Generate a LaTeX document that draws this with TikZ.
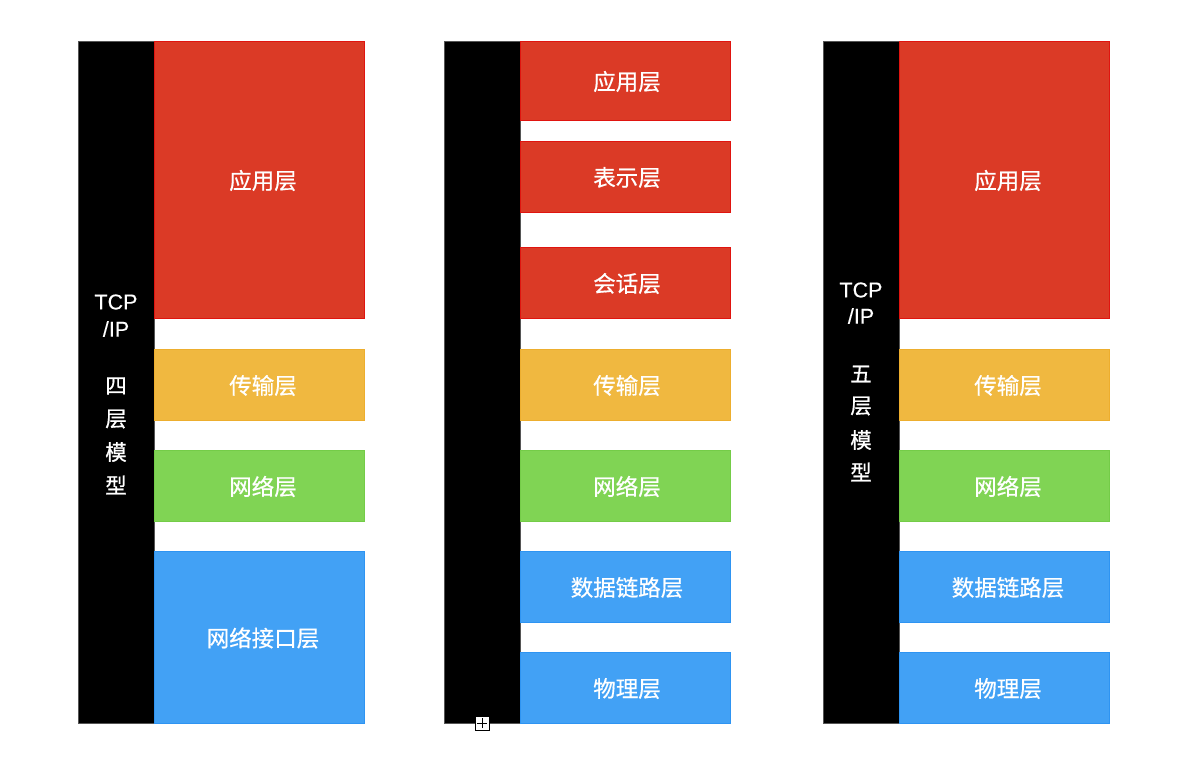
\documentclass[tikz,border=0pt]{standalone}
\usepackage{fontspec}
\setmainfont{Liberation Sans}
\newfontfamily\latn[FakeBold=0.3]{Liberation Sans}
\newfontfamily\cjk[FakeBold=0.6]{Noto Sans CJK SC}
\definecolor{lred}{HTML}{DB3A26}
\definecolor{lredb}{HTML}{E0140F}
\definecolor{lyel}{HTML}{F0B840}
\definecolor{lyelb}{HTML}{EDAE2E}
\definecolor{lgrn}{HTML}{80D454}
\definecolor{lgrnb}{HTML}{74CC48}
\definecolor{lblu}{HTML}{42A1F5}
\definecolor{lblub}{HTML}{2E94F2}
\definecolor{kbord}{HTML}{555555}
\begin{document}
\begin{tikzpicture}[x=1pt,y=-1pt,
  lay/.style={anchor=north west,inner sep=0pt,outer sep=0pt,line width=0.8pt,text=white,font=\fontsize{22.5}{26}\selectfont\cjk,text depth=0pt},
  blk/.style={anchor=north west,inner sep=0pt,outer sep=0pt,fill=black,draw=kbord,line width=0.8pt,minimum width=76pt,minimum height=682pt},
  red/.style={lay,fill=lred,draw=lredb},
  yel/.style={lay,fill=lyel,draw=lyelb},
  grn/.style={lay,fill=lgrn,draw=lgrnb},
  blu/.style={lay,fill=lblu,draw=lblub},
  side/.style={text=white,inner sep=0pt,font=\fontsize{21.5}{24}\selectfont\latn},
  sidec/.style={text=white,inner sep=0pt,font=\fontsize{21.5}{24}\selectfont\cjk}]
\useasboundingbox (0,0) rectangle (1200,779);
% Panel 1
\node[blk] (k1) at (78,41) {};
\node[red,minimum width=210pt,minimum height=277pt] (a1) at (154,41) {\hspace{8pt}应用层};
\node[yel,minimum width=210pt,minimum height=71pt] (b1) at (154,349) {\hspace{8pt}传输层};
\node[grn,minimum width=210pt,minimum height=71pt] (c1) at (154,450) {\hspace{8pt}网络层};
\node[blu,minimum width=210pt,minimum height=172pt] (d1) at (154,551) {\hspace{8pt}网络接口层};
\node[side] (s1a) at (116,302) {TCP};
\node[side] (s1b) at (116,329) {/IP};
\node[sidec] (s1c) at (116,386) {四};
\node[sidec] (s1d) at (116,419) {层};
\node[sidec] (s1e) at (116,452) {模};
\node[sidec] (s1f) at (116,485) {型};
% Panel 2
\node[blk] (k2) at (444,41) {};
\node[red,minimum width=210pt,minimum height=79pt] (a2) at (520,41) {\hspace{4pt}应用层};
\node[red,minimum width=210pt,minimum height=71pt] (e2) at (520,141) {\hspace{4pt}表示层};
\node[red,minimum width=210pt,minimum height=71pt] (f2) at (520,247) {\hspace{4pt}会话层};
\node[yel,minimum width=210pt,minimum height=71pt] (b2) at (520,349) {\hspace{4pt}传输层};
\node[grn,minimum width=210pt,minimum height=71pt] (c2) at (520,450) {\hspace{4pt}网络层};
\node[blu,minimum width=210pt,minimum height=71pt] (d2) at (520,551) {\hspace{4pt}数据链路层};
\node[blu,minimum width=210pt,minimum height=71pt] (g2) at (520,652) {\hspace{4pt}物理层};
\node[draw=black,fill=white,line width=0.8pt,minimum size=14pt,inner sep=0pt] (plus) at (482,723) {};
\draw[line width=0.8pt] ([xshift=-5pt]plus.center) -- ([xshift=5pt]plus.center);
\draw[line width=0.8pt] ([yshift=-5pt]plus.center) -- ([yshift=5pt]plus.center);
% Panel 3
\node[blk] (k3) at (823,41) {};
\node[red,minimum width=210pt,minimum height=277pt] (a3) at (899,41) {\hspace{8pt}应用层};
\node[yel,minimum width=210pt,minimum height=71pt] (b3) at (899,349) {\hspace{8pt}传输层};
\node[grn,minimum width=210pt,minimum height=71pt] (c3) at (899,450) {\hspace{8pt}网络层};
\node[blu,minimum width=210pt,minimum height=71pt] (d3) at (899,551) {\hspace{8pt}数据链路层};
\node[blu,minimum width=210pt,minimum height=71pt] (g3) at (899,652) {\hspace{8pt}物理层};
\node[side] (s3a) at (861,290) {TCP};
\node[side] (s3b) at (861,316) {/IP};
\node[sidec] (s3c) at (861,374) {五};
\node[sidec] (s3d) at (861,406) {层};
\node[sidec] (s3e) at (861,440) {模};
\node[sidec] (s3f) at (861,472) {型};
\end{tikzpicture}
\end{document}
